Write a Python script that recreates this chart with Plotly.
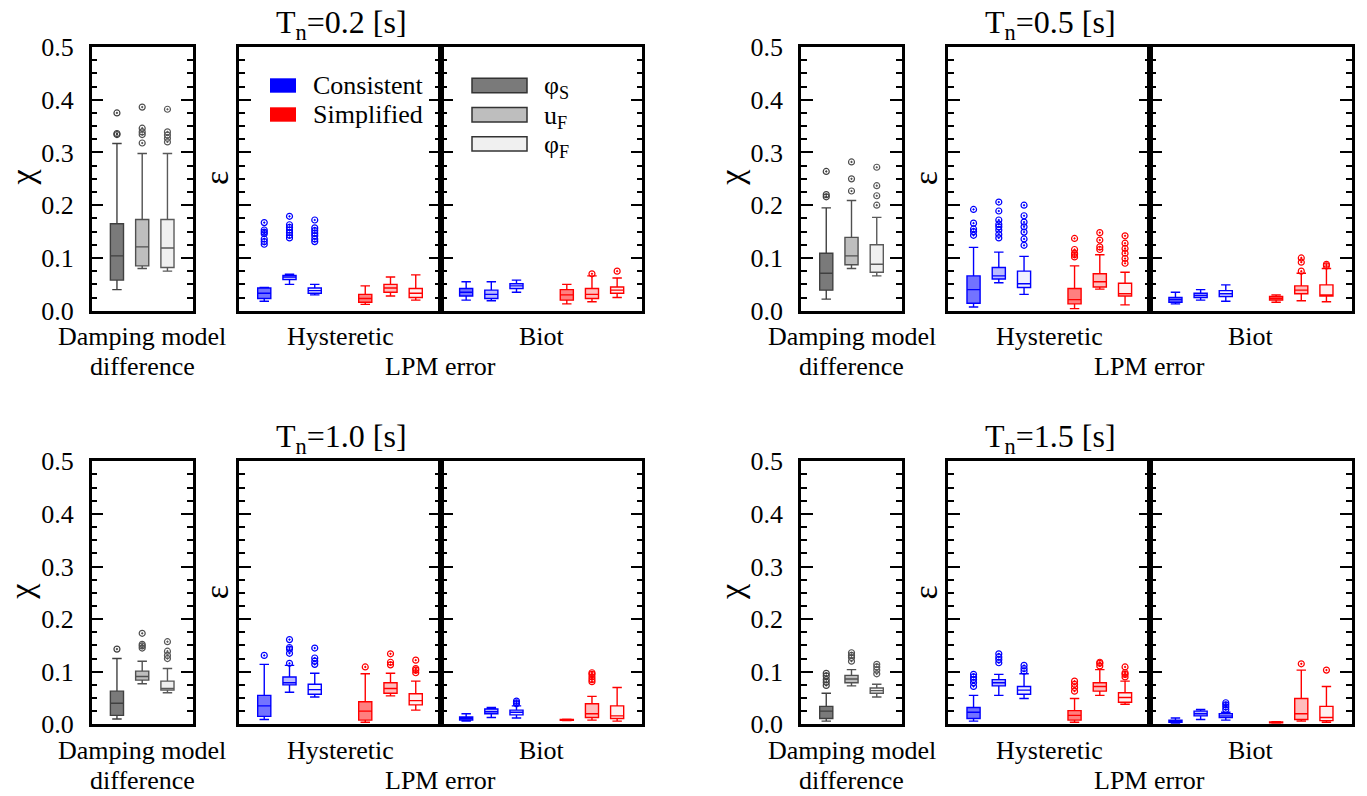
import plotly.graph_objects as go

W, H = 1367, 796
FONT = "Liberation Serif"

# ---------------- data ----------------
periods = ["0.2", "0.5", "1.0", "1.5"]
components = ["φ<sub>S</sub>", "u<sub>F</sub>", "φ<sub>F</sub>"]
methods = ["Consistent", "Simplified"]
damping = ["Hysteretic", "Biot"]
chi_pos = [1, 2, 3]
eps_pos = [1, 2, 3, 5, 6, 7]
y_ticks = [0.0, 0.1, 0.2, 0.3, 0.4, 0.5]

# stats per box: (lower whisker, Q1, median, Q3, upper whisker)
# order chi: phiS, uF, phiF ; order eps: Consistent phiS,uF,phiF, Simplified phiS,uF,phiF
chi_02_stats = [(0.040, 0.058, 0.104, 0.165, 0.317),
                (0.080, 0.085, 0.121, 0.173, 0.298),
                (0.075, 0.082, 0.119, 0.173, 0.298)]
chi_02_out = [[0.334, 0.336, 0.375],
              [0.318, 0.334, 0.339, 0.346, 0.386],
              [0.320, 0.327, 0.333, 0.339, 0.382]]
hyst_02_stats = [(0.018, 0.023, 0.033, 0.043, 0.044),
                 (0.050, 0.059, 0.064, 0.067, 0.069),
                 (0.030, 0.033, 0.038, 0.043, 0.050),
                 (0.012, 0.016, 0.023, 0.031, 0.047),
                 (0.028, 0.035, 0.043, 0.050, 0.064),
                 (0.020, 0.025, 0.033, 0.042, 0.068)]
hyst_02_out = [[0.126, 0.131, 0.136, 0.146, 0.149, 0.153, 0.167],
               [0.138, 0.143, 0.148, 0.153, 0.158, 0.163, 0.179],
               [0.131, 0.136, 0.142, 0.147, 0.152, 0.157, 0.172],
               [], [], []]
biot_02_stats = [(0.020, 0.028, 0.035, 0.042, 0.055),
                 (0.019, 0.023, 0.031, 0.039, 0.055),
                 (0.035, 0.042, 0.047, 0.051, 0.058),
                 (0.013, 0.020, 0.030, 0.040, 0.050),
                 (0.017, 0.023, 0.031, 0.042, 0.066),
                 (0.025, 0.033, 0.039, 0.045, 0.062)]
biot_02_out = [[], [], [], [], [0.070], [0.075]]

chi_05_stats = [(0.022, 0.039, 0.071, 0.109, 0.195),
                (0.080, 0.087, 0.104, 0.139, 0.209),
                (0.066, 0.073, 0.088, 0.125, 0.177)]
chi_05_out = [[0.216, 0.220, 0.264],
              [0.227, 0.250, 0.282],
              [0.200, 0.218, 0.237, 0.272]]
hyst_05_stats = [(0.007, 0.014, 0.040, 0.066, 0.120),
                 (0.053, 0.060, 0.066, 0.082, 0.111),
                 (0.031, 0.044, 0.051, 0.075, 0.103),
                 (0.004, 0.013, 0.021, 0.042, 0.085),
                 (0.041, 0.045, 0.055, 0.070, 0.106),
                 (0.011, 0.028, 0.032, 0.052, 0.073)]
hyst_05_out = [[0.143, 0.150, 0.155, 0.166, 0.192],
               [0.138, 0.145, 0.153, 0.159, 0.164, 0.172, 0.189, 0.206],
               [0.124, 0.136, 0.149, 0.159, 0.168, 0.180, 0.200],
               [0.102, 0.106, 0.109, 0.116, 0.137],
               [0.116, 0.121, 0.134, 0.148],
               [0.090, 0.099, 0.109, 0.118, 0.128, 0.142]]
biot_05_stats = [(0.013, 0.016, 0.021, 0.025, 0.035),
                 (0.020, 0.025, 0.029, 0.033, 0.040),
                 (0.018, 0.027, 0.032, 0.038, 0.049),
                 (0.016, 0.020, 0.023, 0.027, 0.030),
                 (0.019, 0.032, 0.039, 0.047, 0.071),
                 (0.017, 0.028, 0.030, 0.049, 0.080)]
biot_05_out = [[], [], [], [], [0.075, 0.092, 0.100], [0.085, 0.088]]

chi_10_stats = [(0.010, 0.017, 0.040, 0.063, 0.125),
                (0.077, 0.084, 0.091, 0.101, 0.120),
                (0.060, 0.065, 0.068, 0.082, 0.106)]
chi_10_out = [[0.143],
              [0.145, 0.149, 0.152, 0.173],
              [0.125, 0.131, 0.139, 0.157]]
hyst_10_stats = [(0.009, 0.015, 0.035, 0.055, 0.114),
                 (0.061, 0.075, 0.079, 0.090, 0.112),
                 (0.052, 0.057, 0.066, 0.076, 0.097),
                 (0.004, 0.008, 0.025, 0.043, 0.096),
                 (0.054, 0.059, 0.068, 0.079, 0.097),
                 (0.027, 0.037, 0.045, 0.058, 0.082)]
hyst_10_out = [[0.131],
               [0.116, 0.135, 0.143, 0.146, 0.161],
               [0.114, 0.120, 0.126, 0.145],
               [0.109],
               [0.113, 0.118, 0.134],
               [0.098, 0.103, 0.106, 0.122]]
biot_10_stats = [(0.006, 0.008, 0.011, 0.014, 0.020),
                 (0.013, 0.020, 0.024, 0.029, 0.032),
                 (0.012, 0.018, 0.023, 0.027, 0.035),
                 (0.007, 0.0075, 0.008, 0.009, 0.0095),
                 (0.008, 0.013, 0.020, 0.039, 0.053),
                 (0.006, 0.011, 0.016, 0.035, 0.070)]
biot_10_out = [[], [], [0.039, 0.041, 0.044], [],
               [0.081, 0.085, 0.090, 0.095, 0.098], []]

chi_15_stats = [(0.006, 0.011, 0.025, 0.034, 0.059),
                (0.073, 0.079, 0.086, 0.093, 0.104),
                (0.052, 0.059, 0.064, 0.069, 0.076)]
chi_15_out = [[0.074, 0.080, 0.085, 0.092, 0.097],
              [0.120, 0.127, 0.131, 0.136],
              [0.096, 0.103, 0.109, 0.114]]
hyst_15_stats = [(0.006, 0.011, 0.023, 0.032, 0.055),
                 (0.055, 0.073, 0.079, 0.085, 0.095),
                 (0.049, 0.057, 0.065, 0.072, 0.096),
                 (0.004, 0.008, 0.017, 0.026, 0.049),
                 (0.055, 0.063, 0.072, 0.079, 0.104),
                 (0.038, 0.042, 0.051, 0.060, 0.082)]
hyst_15_out = [[0.072, 0.079, 0.085, 0.090, 0.095],
               [0.117, 0.123, 0.128, 0.134],
               [0.101, 0.106, 0.112],
               [0.063, 0.070, 0.076, 0.082],
               [0.111, 0.116, 0.118],
               [0.090, 0.095, 0.098, 0.109]]
biot_15_stats = [(0.0025, 0.004, 0.006, 0.008, 0.012),
                 (0.009, 0.016, 0.020, 0.025, 0.028),
                 (0.008, 0.013, 0.016, 0.020, 0.023),
                 (0.0025, 0.003, 0.004, 0.0045, 0.005),
                 (0.006, 0.009, 0.020, 0.049, 0.103),
                 (0.004, 0.007, 0.013, 0.034, 0.072)]
biot_15_out = [[], [], [0.028, 0.033, 0.037, 0.041], [], [0.115], [0.103]]

chi_stats = [chi_02_stats, chi_05_stats, chi_10_stats, chi_15_stats]
chi_out = [chi_02_out, chi_05_out, chi_10_out, chi_15_out]
hyst_stats = [hyst_02_stats, hyst_05_stats, hyst_10_stats, hyst_15_stats]
hyst_out = [hyst_02_out, hyst_05_out, hyst_10_out, hyst_15_out]
biot_stats = [biot_02_stats, biot_05_stats, biot_10_stats, biot_15_stats]
biot_out = [biot_02_out, biot_05_out, biot_10_out, biot_15_out]

# ---------------- styles ----------------
gray_fill = ["#7a7a7a", "#bebebe", "#f0f0f0"]
gray_line = ["#404040", "#505050", "#5a5a5a"]
blue_fill = ["rgba(0,0,255,0.55)", "rgba(0,0,255,0.27)", "rgba(0,0,255,0.06)"]
red_fill = ["rgba(255,0,0,0.5)", "rgba(255,0,0,0.26)", "rgba(255,0,0,0.06)"]
eps_fill = blue_fill + red_fill
eps_line = ["#0000ff"] * 3 + ["#ff0000"] * 3

col_dx = [0.0, 709.3]
row_y = [(47.0, 310.7), (461.3, 724.3)]
chi_x = (91.7, 192.7)
hyst_x = (239.0, 441.0)
biot_x = (441.0, 642.3)


def fx(x):
    return x / W


def fy(y):
    return 1 - y / H


fig = go.Figure()
layout = dict(width=W, height=H, margin=dict(l=0, r=0, t=0, b=0, pad=0, autoexpand=False),
              paper_bgcolor="white", plot_bgcolor="white",
              showlegend=False, font=dict(family=FONT, color="black"),
              boxmode="overlay")
annotations = []
shapes = []

ax_n = 0


def add_axes(x0, x1, ytop, ybot, xr, labels):
    global ax_n
    ax_n += 1
    n = ax_n
    s = "" if n == 1 else str(n)
    layout["xaxis" + s] = dict(domain=[fx(x0), fx(x1)], range=xr, showticklabels=False,
                               ticks="", showline=True, mirror=True, linecolor="black",
                               linewidth=2.5, showgrid=False, zeroline=False,
                               automargin=False, anchor="y" + s, fixedrange=True)
    layout["yaxis" + s] = dict(domain=[fy(ybot), fy(ytop)], range=[0, 0.5],
                               tickvals=y_ticks, ticks="inside", ticklen=12, tickwidth=1.5,
                               tickcolor="black", mirror="ticks", showline=True,
                               linecolor="black", linewidth=2.5, showgrid=False,
                               zeroline=False, showticklabels=labels, tickformat=".1f",
                               tickfont=dict(size=26, family=FONT, color="black"),
                               ticklabelstandoff=10, automargin=False,
                               minor=dict(ticks="inside", ticklen=6, tickwidth=1.5,
                                          tickcolor="black", dtick=0.025, tick0=0,
                                          showgrid=False),
                               anchor="x" + s, fixedrange=True)
    return "x" + s, "y" + s


def add_boxes(xa, ya, positions, stats, outs, fills, lines):
    for pos, st, ol, fc, lc in zip(positions, stats, outs, fills, lines):
        fig.add_trace(go.Box(x=[pos], lowerfence=[st[0]], q1=[st[1]], median=[st[2]],
                             q3=[st[3]], upperfence=[st[4]], fillcolor=fc,
                             line=dict(color=lc, width=1.4), width=0.52,
                             whiskerwidth=0.72, boxpoints=False,
                             xaxis=xa, yaxis=ya, showlegend=False, hoverinfo="skip"))
        if ol:
            fig.add_trace(go.Scatter(x=[pos] * len(ol), y=ol, mode="markers",
                                     marker=dict(symbol="circle-open-dot", size=6, color=lc,
                                                 line=dict(width=1.2, color=lc)),
                                     xaxis=xa, yaxis=ya, showlegend=False,
                                     hoverinfo="skip"))


def ann(text, x, y, size=26, **kw):
    d = dict(text=text, x=fx(x), y=fy(y), xref="paper", yref="paper", showarrow=False,
             font=dict(size=size, family=FONT, color="black"),
             xanchor=kw.pop("xanchor", "center"), yanchor=kw.pop("yanchor", "middle"))
    d.update(kw)
    annotations.append(d)


for i, per in enumerate(periods):
    r, c = divmod(i, 2)
    dx = col_dx[c]
    ytop, ybot = row_y[r]
    dy = ytop - 47.0

    xa, ya = add_axes(chi_x[0] + dx, chi_x[1] + dx, ytop, ybot, [0, 4], True)
    add_boxes(xa, ya, chi_pos, chi_stats[i], chi_out[i], gray_fill, gray_line)

    xa, ya = add_axes(hyst_x[0] + dx, hyst_x[1] + dx, ytop, ybot, [0, 8], False)
    add_boxes(xa, ya, eps_pos, hyst_stats[i], hyst_out[i], eps_fill, eps_line)

    xa, ya = add_axes(biot_x[0] + dx, biot_x[1] + dx, ytop, ybot, [0, 8], False)
    add_boxes(xa, ya, eps_pos, biot_stats[i], biot_out[i], eps_fill, eps_line)

    # titles and labels
    ann("T<sub>n</sub>=" + per + " [s]", 341 + dx, 24 + dy, size=32)
    ann("χ", 1 + dx, 178 + dy, size=34, textangle=-90, xanchor="left")
    ann("ε", 216 + dx, 178 + dy, size=34, textangle=-90)
    ann("Damping model", (chi_x[0] + chi_x[1]) / 2 + dx, 336 + dy)
    ann("difference", (chi_x[0] + chi_x[1]) / 2 + dx, 366 + dy)
    ann(damping[0], (hyst_x[0] + hyst_x[1]) / 2 + dx, 336 + dy)
    ann(damping[1], (biot_x[0] + biot_x[1]) / 2 + dx, 336 + dy)
    ann("LPM error", (hyst_x[0] + biot_x[1]) / 2 + dx, 366 + dy)

# legends (top-left panel)
leg_method_colors = ["#0000ff", "#ff0000"]
for k, (m, colr) in enumerate(zip(methods, leg_method_colors)):
    y0 = 78.3 + k * 29
    shapes.append(dict(type="rect", xref="paper", yref="paper", x0=fx(270), x1=fx(296),
                       y0=fy(y0 + 14.4), y1=fy(y0), fillcolor=colr, line=dict(width=0)))
    ann(m, 311, y0 + 7, xanchor="left")
for k, comp in enumerate(components):
    y0 = 78.3 + k * 29.2
    shapes.append(dict(type="rect", xref="paper", yref="paper", x0=fx(472), x1=fx(527),
                       y0=fy(y0 + 14.4), y1=fy(y0), fillcolor=gray_fill[k],
                       line=dict(width=1.5, color="#333333")))
    ann(comp, 542, y0 + 9, xanchor="left")

layout["annotations"] = annotations
layout["shapes"] = shapes
fig.update_layout(**layout)

fig.write_html("out.html", config={"displayModeBar": False},
               post_script="document.body.style.margin='0';")
